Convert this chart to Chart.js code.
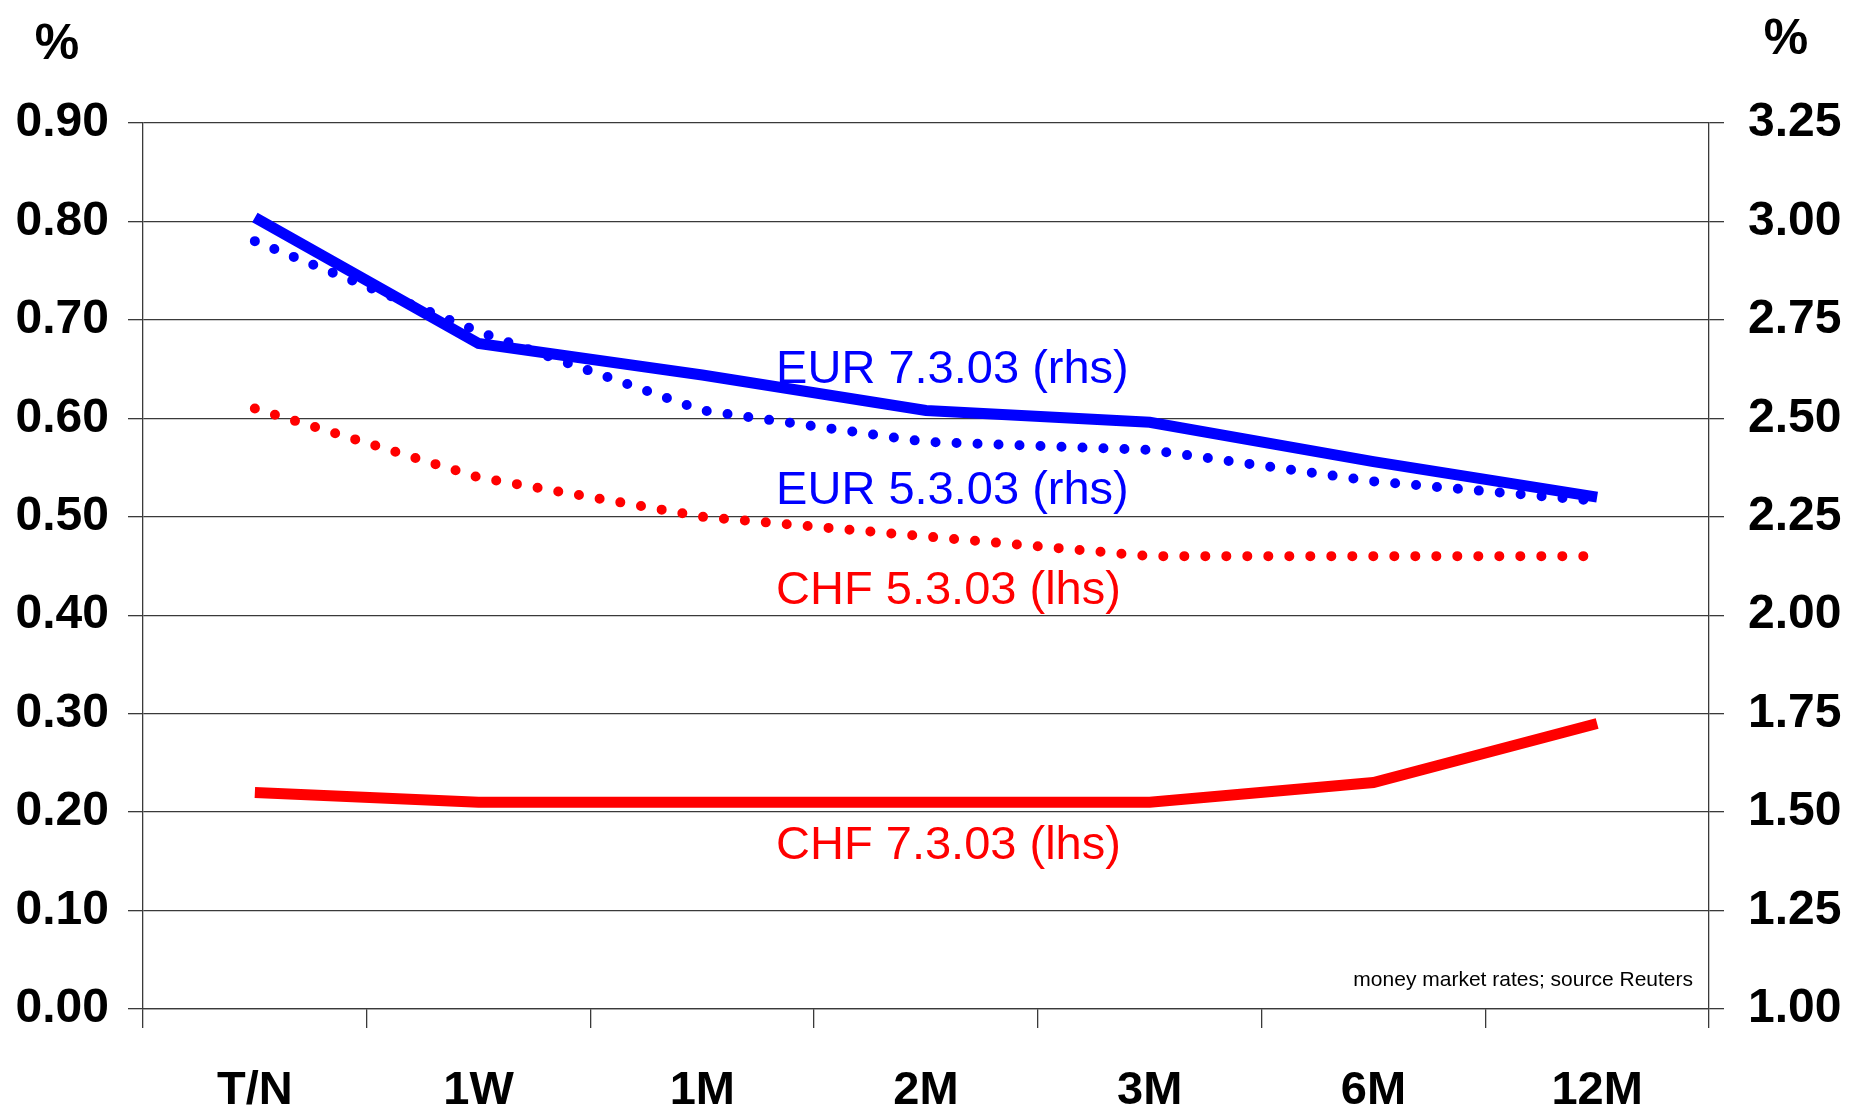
<!DOCTYPE html>
<html>
<head>
<meta charset="utf-8">
<title>CHF / EUR money market rates</title>
<script src="https://cdn.jsdelivr.net/npm/chart.js@4.4.1/dist/chart.umd.min.js"></script>
<style>
  html, body { margin: 0; padding: 0; background: #fff; }
  #wrap { width: 1858px; height: 1109px; position: relative; }
</style>
</head>
<body>
<div id="wrap"><canvas id="myChart" width="1858" height="1109"></canvas></div>
<script>
var categories = ['T/N', '1W', '1M', '2M', '3M', '6M', '12M'];
var chf0703 = [0.22, 0.21, 0.21, 0.21, 0.21, 0.23, 0.29];
var chf0503 = [0.61, 0.54, 0.50, 0.48, 0.46, 0.46, 0.46];
var eur0703 = [3.01, 2.69, 2.61, 2.52, 2.49, 2.39, 2.30];
var eur0503 = [2.95, 2.72, 2.52, 2.44, 2.42, 2.34, 2.29];
var lhsTicks = [0, 0.1, 0.2, 0.3, 0.4, 0.5, 0.6, 0.7, 0.8, 0.9];
var rhsTicks = [1, 1.25, 1.5, 1.75, 2, 2.25, 2.5, 2.75, 3, 3.25];

var FONT = '"Liberation Sans", Arial, sans-serif';
var BLUE = '#0000ff';
var RED = '#ff0000';
var GRID = '#3a3a3a';

// series names written inside the plot, anchored on (category index, lhs value)
var seriesLabels = [
  { text: 'EUR 7.3.03 (rhs)', color: BLUE, x: 2.33, y: 0.636 },
  { text: 'EUR 5.3.03 (rhs)', color: BLUE, x: 2.33, y: 0.513 },
  { text: 'CHF 5.3.03 (lhs)', color: RED, x: 2.33, y: 0.411 },
  { text: 'CHF 7.3.03 (lhs)', color: RED, x: 2.33, y: 0.152 }
];

var textPlugin = {
  id: 'texts',
  afterDatasetsDraw: function(chart) {
    var c = chart.ctx;
    var xs = chart.scales.x, ys = chart.scales.y;
    c.save();
    c.textBaseline = 'alphabetic';
    c.textAlign = 'left';
    c.font = '47px ' + FONT;
    seriesLabels.forEach(function(l) {
      c.fillStyle = l.color;
      c.fillText(l.text, xs.getPixelForValue(l.x), ys.getPixelForValue(l.y));
    });
    // source note, bottom right inside the plot
    var a = chart.chartArea;
    c.font = '21px ' + FONT;
    c.fillStyle = '#000';
    c.textAlign = 'right';
    c.fillText('money market rates; source Reuters', a.right - 16, a.bottom - 23);
    // unit labels above both axes
    c.font = 'bold 50px ' + FONT;
    c.textAlign = 'center';
    c.fillText('%', 57, 59);
    c.fillText('%', 1786, 54);
    c.restore();
  }
};

var ctx = document.getElementById('myChart');
var chart = new Chart(ctx, {
  type: 'line',
  data: {
    labels: categories,
    datasets: [
      { label: 'CHF 7.3.03 (lhs)', data: chf0703, yAxisID: 'y', borderColor: RED, borderWidth: 11 },
      { label: 'CHF 5.3.03 (lhs)', data: chf0503, yAxisID: 'y', borderColor: RED, borderWidth: 10,
        borderDash: [0, 21], borderCapStyle: 'round' },
      { label: 'EUR 5.3.03 (rhs)', data: eur0503, yAxisID: 'y1', borderColor: BLUE, borderWidth: 10,
        borderDash: [0, 21], borderCapStyle: 'round' },
      { label: 'EUR 7.3.03 (rhs)', data: eur0703, yAxisID: 'y1', borderColor: BLUE, borderWidth: 11 }
    ]
  },
  options: {
    responsive: false,
    animation: false,
    devicePixelRatio: 1,
    layout: { padding: { top: 123, left: 0, right: 0, bottom: 0 } },
    elements: {
      point: { radius: 0, hoverRadius: 0 },
      line: { tension: 0, fill: false }
    },
    plugins: {
      legend: { display: false },
      tooltip: { enabled: false }
    },
    scales: {
      x: {
        offset: true,
        grid: { offset: true, drawOnChartArea: false, color: GRID, lineWidth: 1.3, tickLength: 19 },
        border: { color: GRID, width: 1.3 },
        ticks: { color: '#000', font: { family: FONT, size: 47, weight: 'bold' }, padding: 35, maxRotation: 0 },
        afterFit: function(s) { s.height = 100; }
      },
      y: {
        position: 'left',
        min: 0,
        max: 0.9,
        afterBuildTicks: function(s) { s.ticks = lhsTicks.map(function(v) { return { value: v }; }); },
        grid: { color: GRID, lineWidth: 1.3, tickLength: 15 },
        border: { color: GRID, width: 1.3 },
        ticks: {
          color: '#000', padding: 19,
          font: { family: FONT, size: 48, weight: 'bold' },
          callback: function(v) { return Number(v).toFixed(2); }
        },
        afterFit: function(s) { s.width = 143; }
      },
      y1: {
        position: 'right',
        min: 1,
        max: 3.25,
        afterBuildTicks: function(s) { s.ticks = rhsTicks.map(function(v) { return { value: v }; }); },
        grid: { drawOnChartArea: false, color: GRID, lineWidth: 1.3, tickLength: 15 },
        border: { color: GRID, width: 1.3 },
        ticks: {
          color: '#000', padding: 24,
          font: { family: FONT, size: 48, weight: 'bold' },
          callback: function(v) { return Number(v).toFixed(2); }
        },
        afterFit: function(s) { s.width = 149; }
      }
    }
  },
  plugins: [textPlugin]
});
</script>
</body>
</html>
